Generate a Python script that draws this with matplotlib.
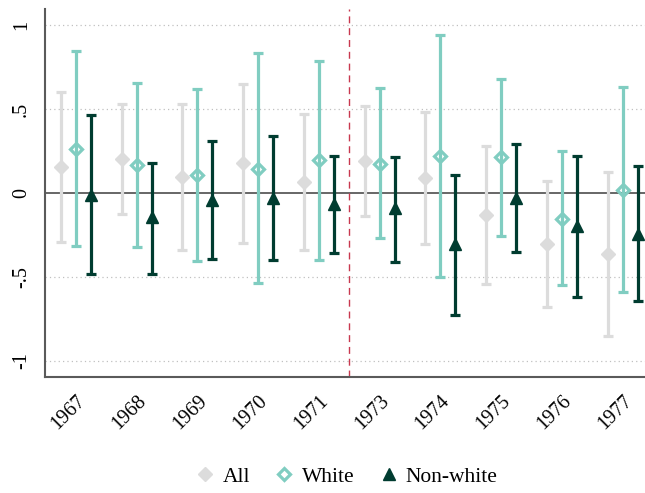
import numpy as np
import matplotlib
matplotlib.use("Agg")
import matplotlib.pyplot as plt
from matplotlib.lines import Line2D

plt.rcParams['font.family'] = ['Liberation Serif', 'DejaVu Serif']

years = ['1967', '1968', '1969', '1970', '1971', '1973', '1974', '1975', '1976', '1977']

# point estimates and 95% CIs
all_est = [0.155, 0.205, 0.095, 0.181, 0.065, 0.193, 0.089, -0.133, -0.307, -0.367]
all_lo = [-0.29, -0.127, -0.341, -0.298, -0.341, -0.135, -0.307, -0.545, -0.68, -0.853]
all_hi = [0.60, 0.532, 0.528, 0.651, 0.468, 0.52, 0.482, 0.28, 0.07, 0.125]

white_est = [0.26, 0.165, 0.109, 0.145, 0.195, 0.175, 0.22, 0.214, -0.153, 0.02]
white_lo = [-0.317, -0.321, -0.407, -0.539, -0.40, -0.271, -0.504, -0.256, -0.549, -0.591]
white_hi = [0.845, 0.655, 0.621, 0.833, 0.786, 0.625, 0.945, 0.679, 0.248, 0.631]

nw_est = [-0.01, -0.145, -0.042, -0.03, -0.067, -0.089, -0.307, -0.028, -0.198, -0.244]
nw_lo = [-0.486, -0.484, -0.397, -0.40, -0.357, -0.411, -0.73, -0.351, -0.619, -0.645]
nw_hi = [0.462, 0.181, 0.31, 0.342, 0.218, 0.214, 0.109, 0.29, 0.218, 0.163]

c_all = '#dcdcdc'
c_white = '#80cdc1'
c_nw = '#003c30'


def draw(ax, x, est, lo, hi, color, marker, ms, hollow=False):
    est = np.array(est)
    err = np.vstack([est - np.array(lo), np.array(hi) - est])
    ax.errorbar(x, est, yerr=err, fmt='none', ecolor=color, elinewidth=2.3,
                capsize=3.8, capthick=2.3, zorder=3)
    if hollow:
        ax.plot(x, est, linestyle='none', marker=marker, ms=ms, mfc='none',
                mec=color, mew=2.3, zorder=4)
    else:
        ax.plot(x, est, linestyle='none', marker=marker, ms=ms, color=color,
                zorder=4)


fig = plt.figure(figsize=(6.45, 4.93), dpi=100)
ax = fig.add_axes([45 / 645, 0.2347, 1 - 45 / 645, 0.748])

x = np.arange(1, len(years) + 1)
off = 0.247

for y in [-1, -0.5, 0.5, 1]:
    ax.axhline(y, color='#c0c0c0', lw=0.9, linestyle=(0, (1, 2.5)), zorder=1)
ax.axhline(0, color='#5a5a5a', lw=1.3, zorder=2)
ax.axvline(5.5, color='#c8384f', lw=1, linestyle=(0, (5, 3.5)), zorder=2)

draw(ax, x - off, all_est, all_lo, all_hi, c_all, 'D', 7.5)
draw(ax, x, white_est, white_lo, white_hi, c_white, 'D', 6.5, hollow=True)
draw(ax, x + off, nw_est, nw_lo, nw_hi, c_nw, '^', 9)

ax.set_xlim(0.49, 10.37)
ax.set_ylim(-1.1, 1.1)
ax.set_xticks(x)
ax.set_xticklabels(years, rotation=45, ha='right', rotation_mode='anchor',
                   fontsize=14.5)
ax.set_yticks([-1, -0.5, 0, 0.5, 1])
ax.set_yticklabels(['-1', '-.5', '0', '.5', '1'], rotation=90, va='center',
                   fontsize=14.5)
ax.tick_params(axis='both', length=0)
ax.tick_params(axis='x', pad=10)
ax.tick_params(axis='y', pad=10)

for s in ['top', 'right']:
    ax.spines[s].set_visible(False)
for s in ['left', 'bottom']:
    ax.spines[s].set_color('#5a5a5a')
    ax.spines[s].set_linewidth(1.5)

handles = [
    Line2D([], [], linestyle='none', marker='D', ms=7.5, color=c_all),
    Line2D([], [], linestyle='none', marker='D', ms=6.5, mfc='none',
           mec=c_white, mew=2.3),
    Line2D([], [], linestyle='none', marker='^', ms=9, color=c_nw),
]
fig.legend(handles, ['All', 'White', 'Non-white'], loc='center',
           bbox_to_anchor=(345 / 645, 0.033), ncol=3, frameon=False,
           fontsize=15.5, handletextpad=0.2, columnspacing=1.0,
           handlelength=1.2)

fig.savefig('out.png', dpi=100)
